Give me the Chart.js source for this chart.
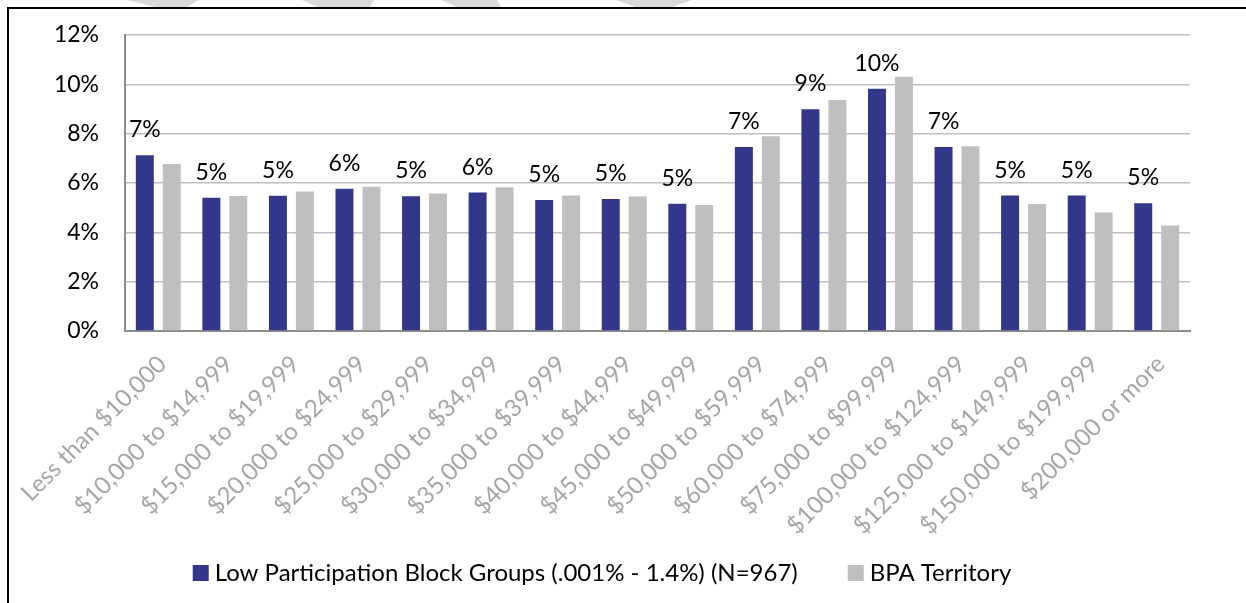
<!DOCTYPE html>
<html>
<head>
<meta charset="utf-8">
<script src="https://cdn.jsdelivr.net/npm/chart.js@4.4.1/dist/chart.umd.min.js"></script>
<style>
  body { margin: 0; background: #fff; }
  #wrap { position: relative; width: 1246px; height: 603px; overflow: hidden; }
  #frame { position: absolute; left: 7px; top: 7px; width: 1300px; height: 700px;
           border-left: 2px solid #000; border-top: 2px solid #000; }
  .mark { position: absolute; top: 0; height: 7px; background: #d9d9d9; }
  canvas { position: absolute; left: 0; top: 0; }
</style>
</head>
<body>
<div id="wrap">
  <div class="mark" style="left:127px;width:72px;clip-path:polygon(0 0,100% 0,83% 100%,39% 100%)"></div>
  <div class="mark" style="left:302px;width:72px;clip-path:polygon(0 0,100% 0,94% 100%,22% 100%)"></div>
  <div class="mark" style="left:441px;width:60px;clip-path:polygon(0 0,93% 0,100% 100%,27% 100%)"></div>
  <div class="mark" style="left:616px;width:76px;clip-path:polygon(0 0,100% 0,74% 100%,26% 100%)"></div>
  <div id="frame"></div>
  <canvas id="incomeChart" width="1246" height="603"></canvas>
</div>
<script>
const categories = [
  "Less than $10,000", "$10,000 to $14,999", "$15,000 to $19,999", "$20,000 to $24,999",
  "$25,000 to $29,999", "$30,000 to $34,999", "$35,000 to $39,999", "$40,000 to $44,999",
  "$45,000 to $49,999", "$50,000 to $59,999", "$60,000 to $74,999", "$75,000 to $99,999",
  "$100,000 to $124,999", "$125,000 to $149,999", "$150,000 to $199,999", "$200,000 or more"
];
const lowParticipation = [7.13, 5.40, 5.48, 5.77, 5.46, 5.61, 5.31, 5.35, 5.16, 7.46, 8.99, 9.82, 7.46, 5.49, 5.49, 5.18];
const bpaTerritory = [6.77, 5.47, 5.66, 5.85, 5.57, 5.83, 5.49, 5.45, 5.11, 7.90, 9.36, 10.31, 7.49, 5.15, 4.80, 4.28];
const yTicks = [0, 2, 4, 6, 8, 10, 12];

const FONT = "Lato, 'Open Sans', sans-serif";

// percent labels above the first series only
const barLabels = {
  id: "barLabels",
  afterDatasetsDraw(chart) {
    const ctx = chart.ctx;
    const meta = chart.getDatasetMeta(0);
    ctx.save();
    ctx.font = "23px " + FONT;
    ctx.fillStyle = "#000";
    ctx.textAlign = "center";
    ctx.textBaseline = "alphabetic";
    meta.data.forEach((bar, i) => {
      ctx.fillText(Math.round(lowParticipation[i]) + "%", bar.x, bar.y - 18);
    });
    ctx.restore();
  }
};

// legend drawn by hand so box/text spacing matches the original
const bottomLegend = {
  id: "bottomLegend",
  afterDraw(chart) {
    const ctx = chart.ctx;
    const sets = chart.data.datasets;
    ctx.save();
    ctx.font = "24px " + FONT;
    ctx.textBaseline = "middle";
    const box = 16, gap = 6, itemGap = 50;
    let total = 0;
    sets.forEach((ds, i) => {
      total += box + gap + ctx.measureText(ds.label).width + (i ? itemGap : 0);
    });
    let x = 602 - total / 2;
    const y = 573;
    sets.forEach((ds, i) => {
      if (i) x += itemGap;
      ctx.fillStyle = ds.backgroundColor;
      ctx.fillRect(x, y - box / 2, box, box);
      x += box + gap;
      ctx.fillStyle = "#000";
      ctx.fillText(ds.label, x, y);
      x += ctx.measureText(ds.label).width;
    });
    ctx.restore();
  }
};

new Chart(document.getElementById("incomeChart"), {
  type: "bar",
  data: {
    labels: categories,
    datasets: [
      { label: "Low Participation Block Groups (.001% - 1.4%) (N=967)", data: lowParticipation, backgroundColor: "#333789" },
      { label: "BPA Territory", data: bpaTerritory, backgroundColor: "#bfbfbf" }
    ]
  },
  options: {
    responsive: false,
    animation: false,
    devicePixelRatio: 1,
    categoryPercentage: 0.81,
    barPercentage: 0.667,
    layout: { padding: { left: 0, top: 35, right: 56, bottom: 0 } },
    plugins: {
      legend: { display: false },
      tooltip: { enabled: false }
    },
    scales: {
      x: {
        grid: { display: false },
        border: { display: true, color: "#8c8c8c", width: 2 },
        ticks: {
          autoSkip: false,
          maxRotation: 45,
          minRotation: 45,
          padding: 11,
          labelOffset: 4,
          color: "#a6a6a6",
          font: { family: FONT, size: 24 }
        },
        afterFit(scale) {
          scale.height = 272;
          scale.paddingLeft = 0;
          scale.paddingRight = 0;
        }
      },
      y: {
        min: 0,
        max: 12,
        afterBuildTicks(scale) {
          scale.ticks = yTicks.map(v => ({ value: v }));
        },
        grid: { color: "#bfbfbf", lineWidth: 1.5, drawTicks: false },
        border: { display: true, color: "#8c8c8c", width: 2 },
        ticks: {
          padding: 26,
          color: "#000",
          font: { family: FONT, size: 23 },
          callback: v => v + "%"
        },
        afterFit(scale) {
          scale.width = 125;
          scale.paddingTop = 0;
          scale.paddingBottom = 0;
        }
      }
    }
  },
  plugins: [barLabels, bottomLegend]
});
</script>
</body>
</html>
